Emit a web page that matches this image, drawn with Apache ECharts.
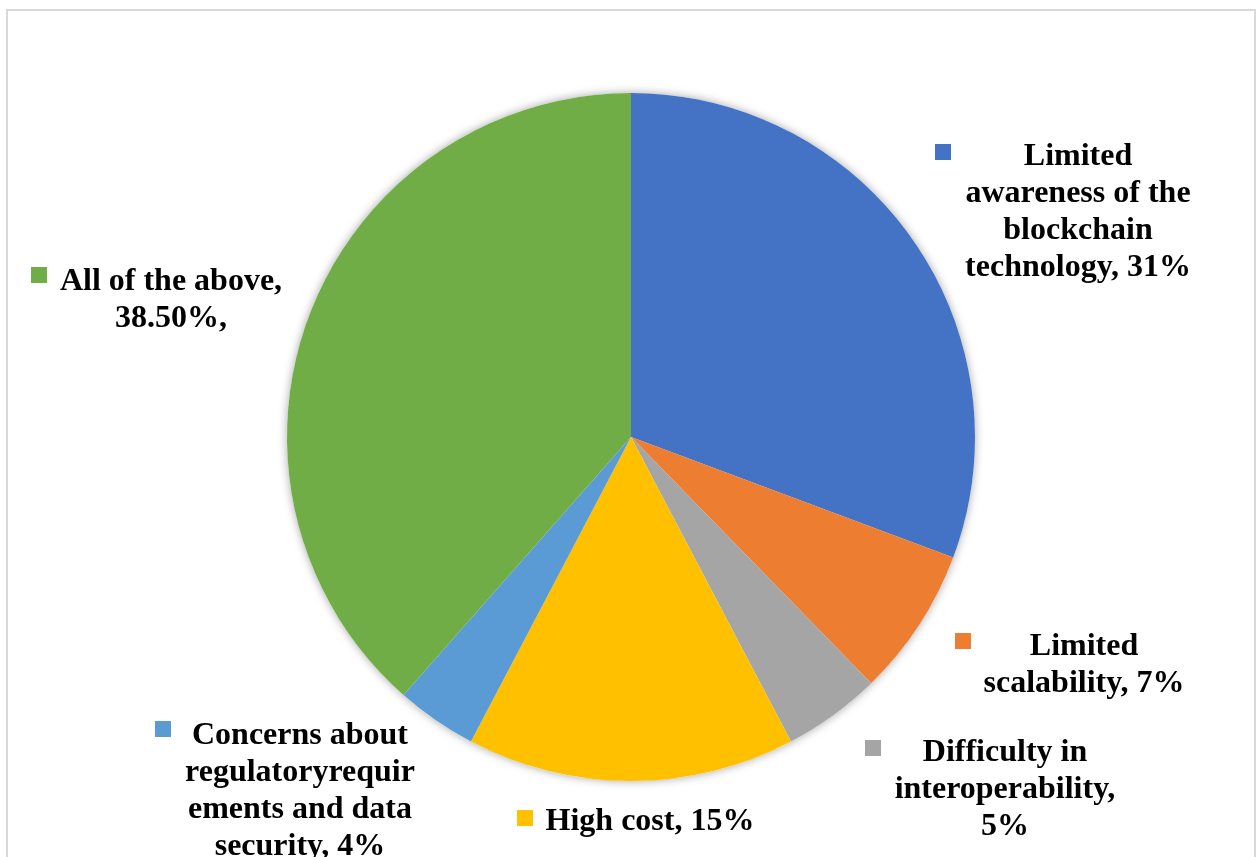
<!DOCTYPE html>
<html>
<head>
<meta charset="utf-8">
<script src="https://cdn.jsdelivr.net/npm/echarts@6/dist/echarts.min.js"></script>
<style>
html,body{margin:0;padding:0;background:#fff;}
#chart{width:1257px;height:857px;}
</style>
</head>
<body>
<div id="chart"></div>
<script>
// ---- data ----
var categories = [
  'Limited awareness of the blockchain technology',
  'Limited scalability',
  'Difficulty in interoperability',
  'High cost',
  'Concerns about regulatoryrequirements and data security',
  'All of the above'
];
// slice sizes (labels show the rounded figures)
var values = [30.7, 7.0, 4.6, 15.4, 3.8, 38.5];
var labelTexts = [
  'Limited\nawareness of the\nblockchain\ntechnology, 31%',
  'Limited\nscalability, 7%',
  'Difficulty in\ninteroperability,\n5%',
  'High cost, 15%',
  'Concerns about\nregulatoryrequir\nements and data\nsecurity, 4%',
  'All of the above,\n38.50%,'
];
var colors = ['#4472C4', '#ED7D31', '#A5A5A5', '#FFC000', '#5B9BD5', '#70AD47'];

// ---- label layout (positions of text blocks and legend keys) ----
var textPos = [[1078, 212], [1084, 665], [1005, 790], [650, 822], [300, 791], [171, 300]];
var keyPos = [[943, 152], [963, 641], [873, 748], [525, 818], [163, 729], [39, 275]];

var font = "'Liberation Serif', 'Times New Roman', serif";
var center = [631, 437];
var radius = 344;

var chart = echarts.init(document.getElementById('chart'), null, {renderer: 'canvas'});

var mainData = values.map(function (v, i) {
  return {name: categories[i], value: v, itemStyle: {color: colors[i]}};
});

chart.setOption({
  animation: false,
  backgroundColor: '#ffffff',
  graphic: [{
    type: 'rect',
    shape: {x: 7, y: 10, width: 1248, height: 900},
    style: {fill: 'none', stroke: '#d9d9d9', lineWidth: 2},
    z: 0
  }],
  series: [
    {
      // shadow disc under the pie
      type: 'pie',
      silent: true,
      center: center,
      radius: radius,
      z: 1,
      label: {show: false},
      labelLine: {show: false},
      itemStyle: {color: '#ffffff', shadowBlur: 10, shadowColor: 'rgba(0,0,0,0.35)'},
      data: [{value: 1, name: ''}]
    },
    {
      type: 'pie',
      center: center,
      radius: radius,
      startAngle: 90,
      clockwise: true,
      avoidLabelOverlap: false,
      z: 2,
      itemStyle: {borderWidth: 0},
      label: {
        show: true,
        formatter: function (p) { return labelTexts[p.dataIndex]; },
        fontFamily: font,
        fontWeight: 'bold',
        fontSize: 32,
        lineHeight: 37,
        color: '#000000',
        align: 'center'
      },
      labelLine: {show: false},
      labelLayout: function (p) {
        var pos = textPos[p.dataIndex];
        return {x: pos[0], y: pos[1], align: 'center', verticalAlign: 'middle'};
      },
      data: mainData
    },
    {
      // legend keys beside each label
      type: 'pie',
      silent: true,
      center: center,
      radius: radius,
      startAngle: 90,
      clockwise: true,
      avoidLabelOverlap: false,
      z: 3,
      itemStyle: {color: 'rgba(0,0,0,0)'},
      label: {
        show: true,
        formatter: '{k|}',
        rich: {}
      },
      labelLine: {show: false},
      labelLayout: function (p) {
        var pos = keyPos[p.dataIndex];
        return {x: pos[0], y: pos[1], align: 'center', verticalAlign: 'middle'};
      },
      data: values.map(function (v, i) {
        return {
          name: categories[i], value: v,
          label: {rich: {k: {width: 16, height: 16, backgroundColor: colors[i]}}}
        };
      })
    }
  ]
});
</script>
</body>
</html>
